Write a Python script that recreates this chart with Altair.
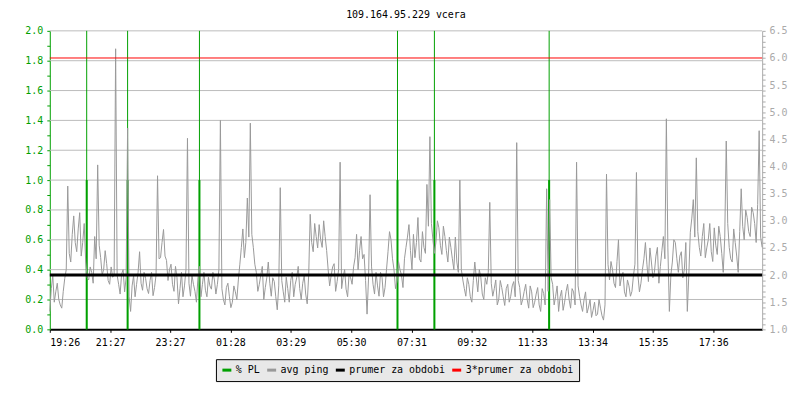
import altair as alt
import pandas as pd

# ---------------- data ----------------
title_text = "109.164.95.229 vcera"
series_names = ["% PL", "avg ping", "prumer za obdobi", "3*prumer za obdobi"]
series_colors = ["#00a000", "#999999", "#000000", "#ff0000"]

tick_labels = ["19:26", "21:27", "23:27", "01:28", "03:29", "05:30",
               "07:31", "09:32", "11:33", "13:34", "15:35", "17:36"]

sample_step_min = 3
# samples at even steps (0, 6, 12, ... min)
ping_even = [
    1.33, 1.99, 1.69, 1.55, 1.39, 1.94, 3.64, 2.24, 3.09, 2.43,
    3.15, 2.60, 2.24, 1.91, 2.05, 2.71, 4.03, 2.32, 2.10, 2.21,
    1.83, 1.96, 6.17, 1.83, 2.02, 1.69, 4.71, 1.33, 1.99, 1.83,
    2.43, 1.72, 1.94, 1.66, 2.05, 1.77, 3.83, 2.32, 2.84, 2.27,
    2.10, 1.83, 2.16, 1.47, 2.05, 1.80, 4.52, 1.61, 1.83, 1.50,
    2.16, 1.83, 1.72, 1.96, 1.74, 1.91, 1.83, 4.85, 1.55, 1.77,
    1.61, 1.50, 1.69, 1.91, 2.51, 2.32, 3.42, 4.80, 2.51, 2.05,
    1.83, 2.16, 1.77, 2.24, 1.61, 1.88, 1.36, 3.61, 1.69, 1.96,
    1.50, 2.05, 1.83, 2.16, 1.55, 1.99, 1.47, 3.12, 2.43, 2.71,
    2.93, 2.51, 2.71, 2.10, 1.99, 2.21, 1.88, 4.08, 1.96, 1.74,
    2.02, 1.83, 2.32, 2.10, 2.71, 2.38, 1.28, 3.48, 1.83, 2.05,
    1.61, 1.96, 1.77, 2.43, 2.65, 2.10, 1.88, 2.10, 1.77, 2.51,
    2.93, 2.10, 2.32, 3.06, 2.24, 2.51, 3.67, 4.55, 2.65, 2.60,
    2.87, 2.38, 2.71, 2.24, 2.51, 2.10, 2.24, 3.75, 1.91, 1.61,
    1.83, 1.50, 2.24, 1.69, 1.96, 1.55, 1.83, 3.34, 1.61, 1.91,
    1.55, 1.77, 1.44, 1.83, 1.61, 1.88, 4.44, 1.77, 1.55, 1.83,
    1.39, 1.69, 1.50, 1.77, 1.33, 1.66, 3.59, 3.39, 1.83, 1.61,
    1.33, 1.72, 1.50, 1.83, 1.39, 1.69, 4.08, 1.61, 1.33, 1.69,
    1.41, 1.22, 1.50, 1.28, 1.39, 1.17, 3.86, 1.91, 2.10, 1.77,
    2.65, 1.96, 1.69, 1.91, 1.61, 1.99, 3.89, 1.69, 2.10, 2.60,
    1.88, 2.24, 2.05, 2.51, 2.16, 2.71, 4.88, 1.33, 2.24, 2.60,
    2.05, 2.43, 2.10, 1.33, 2.79, 3.39, 4.16, 2.51, 2.71, 2.32,
    2.65, 2.43, 2.87, 2.38, 2.71, 2.05, 4.47, 2.51, 2.24, 2.60,
    2.05, 3.59, 2.65, 3.06, 2.71, 3.15, 2.60, 4.66, 2.51,
]
# samples in between (3, 9, 15, ... min)
ping_odd = [
    1.75, 1.50, 1.85, 1.45, 1.70, 2.10, 2.40, 2.75, 2.60, 2.85,
    2.35, 2.95, 1.95, 2.15, 1.85, 2.30, 2.55, 2.00, 2.45, 1.90,
    2.15, 2.00, 2.00, 1.65, 2.10, 1.95, 1.60, 1.80, 1.60, 2.05,
    1.85, 2.05, 1.75, 1.90, 1.62, 2.00, 2.30, 2.60, 2.35, 1.90,
    2.20, 1.70, 1.95, 1.75, 1.60, 2.10, 1.85, 2.00, 1.70, 1.95,
    1.60, 2.05, 1.60, 1.80, 2.05, 1.65, 2.10, 1.75, 1.45, 1.85,
    1.40, 1.80, 1.55, 2.20, 2.85, 2.60, 2.70, 2.75, 2.20, 1.70,
    2.00, 1.55, 1.95, 1.85, 1.95, 1.60, 1.80, 1.90, 1.50, 1.75,
    1.90, 1.60, 1.95, 1.75, 1.85, 1.65, 2.00, 2.60, 2.95, 2.50,
    2.65, 3.00, 2.45, 1.80, 2.15, 1.70, 2.10, 1.75, 2.10, 1.60,
    1.95, 2.15, 2.75, 2.45, 2.30, 1.90, 1.95, 2.15, 1.65, 1.80,
    2.05, 1.60, 2.10, 2.80, 2.30, 1.75, 2.25, 2.00, 2.30, 2.70,
    2.45, 2.75, 2.60, 2.30, 2.80, 2.40, 2.90, 2.95, 2.40, 3.00,
    2.55, 2.90, 2.45, 2.70, 2.30, 2.70, 2.05, 2.10, 1.75, 1.95,
    1.60, 1.90, 1.95, 2.10, 1.65, 1.95, 2.05, 1.85, 1.75, 1.45,
    1.90, 1.60, 1.75, 1.50, 1.80, 1.60, 1.90, 1.45, 1.70, 1.55,
    1.80, 1.40, 1.65, 1.45, 1.75, 1.45, 1.70, 1.95, 1.45, 1.80,
    1.60, 1.35, 1.70, 1.55, 1.75, 1.45, 1.80, 1.45, 1.55, 1.30,
    1.55, 1.35, 1.25, 1.55, 1.25, 1.45, 2.20, 2.25, 1.85, 2.25,
    1.80, 2.05, 1.60, 1.80, 1.70, 2.20, 2.00, 1.85, 2.30, 2.20,
    2.50, 1.95, 2.35, 1.85, 2.45, 2.30, 2.50, 2.00, 2.65, 2.30,
    2.35, 1.95, 2.60, 2.00, 3.05, 2.70, 2.80, 2.35, 2.95, 2.50,
    2.95, 2.25, 2.55, 2.90, 2.40, 2.70, 2.95, 2.30, 2.85, 2.35,
    2.80, 2.90, 3.20, 2.80, 3.25, 2.95, 3.30, 2.70,
]

pl_minutes = [74, 156, 300, 697, 771, 1001]
pl_values = [1.0, 1.0, 1.0, 1.0, 1.0, 1.0]
pl_top = 2.0

avg_ping = 2.0
grid_values = [0.2, 0.4, 0.6, 0.8, 1.0, 1.2, 1.4, 1.6, 1.8, 2.0]

# ---------------- derived tables ----------------
def to_min(lbl):
    h, m = map(int, lbl.split(":"))
    return h * 60 + m

t0 = to_min(tick_labels[0])
tick_minutes = [(to_min(l) - t0) % 1440 for l in tick_labels]

ping_all = []
for k, v in enumerate(ping_even):
    ping_all.append(v)
    if k < len(ping_odd):
        ping_all.append(ping_odd[k])
x_end = sample_step_min * (len(ping_all) - 1)

ping_df = pd.DataFrame({
    "t": [i * sample_step_min for i in range(len(ping_all))],
    "ping": ping_all,
    "series": "avg ping",
})
pl_df = pd.DataFrame({"t": pl_minutes, "pl": pl_values, "base": 0.0,
                      "top": pl_top, "series": "% PL"})
avg_df = pd.DataFrame({"ping": [avg_ping], "series": ["prumer za obdobi"]})
avg3_df = pd.DataFrame({"ping": [3 * avg_ping], "series": ["3*prumer za obdobi"]})
grid_df = pd.DataFrame({"g": grid_values})

FONT = "DejaVu Sans Mono"
GREEN = "#00a000"

label_arr = "[" + ",".join("'%s'" % l for l in tick_labels) + "]"
min_arr = "[" + ",".join(str(m) for m in tick_minutes) + "]"

x_enc = alt.X("t:Q", scale=alt.Scale(domain=[0, x_end], nice=False, zero=False),
              axis=alt.Axis(values=tick_minutes,
                            labelExpr=f"{label_arr}[indexof({min_arr}, datum.value)]",
                            title=None, grid=False, domainColor="black", domainWidth=2,
                            tickColor="black", tickSize=3, labelColor="black",
                            labelFont=FONT, labelFontSize=10, labelPadding=5,
                            labelOverlap=False))

pl_scale = alt.Scale(domain=[0, 2], nice=False, zero=False)
pl_axis = alt.Axis(values=[round(0.1 * k, 1) for k in range(21)],
                   labelExpr="round(datum.value*10) % 2 == 0 ? format(datum.value, '.1f') : ''",
                   orient="left", title=None, grid=False, domainColor=GREEN,
                   tickColor=GREEN, labelColor=GREEN, tickSize=3, labelPadding=4,
                   labelFont=FONT, labelFontSize=10, labelOverlap=False)

ping_scale = alt.Scale(domain=[1, 6.5], nice=False, zero=False)
ping_axis = alt.Axis(values=[round(1 + 0.1 * k, 1) for k in range(56)],
                     labelExpr="round(datum.value*10) % 5 == 0 ? format(datum.value, '.1f') : ''",
                     orient="right", title=None, grid=False, domainColor="#aaaaaa",
                     tickColor="#aaaaaa", labelColor="#aaaaaa", tickSize=3,
                     labelPadding=4, labelFont=FONT, labelFontSize=10, labelOverlap=False)

legend = alt.Legend(orient="none", legendX=167, legendY=330, direction="horizontal",
                    title=None, fillColor="#e8e8e8", strokeColor="black", padding=5,
                    symbolType="stroke", symbolSize=81, symbolStrokeWidth=3,
                    labelFont=FONT, labelFontSize=10, labelColor="black",
                    columnPadding=0, labelOffset=3)
color_enc = alt.Color("series:N", scale=alt.Scale(domain=series_names, range=series_colors),
                      legend=legend)

grid = alt.Chart(grid_df).mark_rule(color="#bbbbbb", strokeWidth=1).encode(
    y=alt.Y("g:Q", scale=pl_scale, axis=pl_axis))
pl_thin = alt.Chart(pl_df).mark_rule(strokeWidth=1).encode(
    x=x_enc, y=alt.Y("base:Q", scale=pl_scale, axis=pl_axis), y2="top:Q", color=color_enc)
pl_thick = alt.Chart(pl_df).mark_rule(strokeWidth=2).encode(
    x=x_enc, y=alt.Y("base:Q", scale=pl_scale, axis=pl_axis), y2="pl:Q", color=color_enc)

ping_line = alt.Chart(ping_df).mark_line(strokeWidth=1).encode(
    x=x_enc, y=alt.Y("ping:Q", scale=ping_scale, axis=ping_axis), color=color_enc)
avg_line = alt.Chart(avg_df).mark_rule(strokeWidth=3).encode(
    y=alt.Y("ping:Q", scale=ping_scale, axis=ping_axis), color=color_enc)
avg3_line = alt.Chart(avg3_df).mark_rule(strokeWidth=1).encode(
    y=alt.Y("ping:Q", scale=ping_scale, axis=ping_axis), color=color_enc)

left = alt.layer(grid, pl_thin, pl_thick)
right = alt.layer(ping_line, avg_line, avg3_line)

chart = alt.layer(left, right).resolve_scale(y="independent").properties(
    width=716, height=300,
    title=alt.TitleParams(title_text, font=FONT, fontSize=10, fontWeight="normal",
                          anchor="middle", offset=6, color="black"),
    autosize=alt.AutoSizeParams(type="none"),
    padding={"left": 42, "top": 22, "right": 30, "bottom": 60},
).configure_view(stroke=None)

chart.save("out.html", embed_options={"renderer": "svg", "actions": False})
